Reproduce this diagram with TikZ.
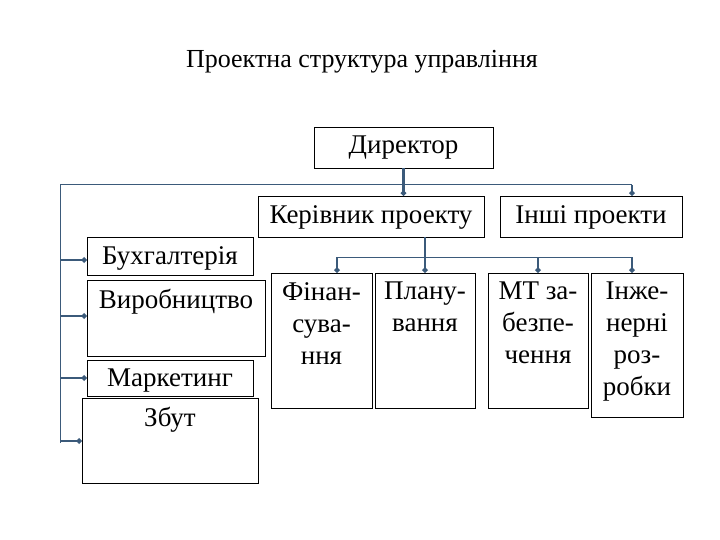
\documentclass[tikz,border=0pt]{standalone}
\usepackage{fontspec}
\setmainfont{Liberation Serif}
\usetikzlibrary{arrows.meta}
\begin{document}
\begin{tikzpicture}[x=1pt,y=-1pt,
  box/.style={draw=black,line width=0.8pt,inner sep=0pt},
  txt/.style={anchor=north,inner sep=0pt,font=\fontsize{27}{32}\selectfont,align=center},
  thin/.style={color={rgb,255:red,59;green,90;blue,122},line width=1pt},
  stub/.style={color={rgb,255:red,59;green,90;blue,122},line width=2.8pt,-{Circle[length=5pt]}}]
\useasboundingbox (0,0) rectangle (720,540);
\node[font=\fontsize{26}{28}\selectfont] (title) at (362,62) {Проектна структура управління};
\newcommand{\bx}[6]{\node[box,minimum width=#4-#2,minimum height=#5-#3] (#1) at ({(#2+#4)/2},{(#3+#5)/2}) {};
  \node[txt] (#1t) at ({(#2+#4)/2},#3+9) {#6};}
\bx{dir}{314}{127}{493}{168}{Директор}
\bx{ker}{258}{196}{484}{237}{Керівник проекту}
\bx{inshi}{500}{196}{682}{237}{Інші проекти}
\bx{fin}{271}{273}{372}{408}{Фінан-\\сува-\\ння}
\bx{plan}{375}{273}{475}{408}{Плану-\\вання}
\bx{mt}{488}{273}{588}{408}{МТ за-\\безпе-\\чення}
\bx{inzh}{591}{273}{683}{417}{Інже-\\нерні\\роз-\\робки}
\bx{buh}{87}{237}{253}{275}{Бухгалтерія}
\bx{vyr}{87}{280}{265}{356}{Виробництво}
\bx{mark}{87}{360}{253}{396}{Маркетинг}
\bx{zbut}{82}{398}{258}{483}{Збут}
\coordinate (l1a) at (60,185); \coordinate (l1b) at (632,185);
\coordinate (l1c) at (60,443);
\draw[thin] (l1c) -- (l1a) -- (l1b);
\coordinate (l2a) at (337,257); \coordinate (l2b) at (632,257);
\draw[thin] (l2a) -- (l2b);
\draw[stub] (dir.south) -- (ker.north-|dir.south);
\draw[stub] (l1b) -- (inshi.north-|l1b);
\draw[stub] (ker.south-|plan.north) -- (plan.north);
\draw[stub] (l2a) -- (fin.north-|l2a);
\draw[stub] (mt.north|-l2a) -- (mt.north);
\draw[stub] (l2b) -- (inzh.north-|l2b);
\draw[stub] (60,260) -- (buh.west|-0,260);
\draw[stub] (60,316) -- (vyr.west|-0,316);
\draw[stub] (60,378) -- (mark.west|-0,378);
\draw[stub] (60,441) -- (zbut.west|-0,441);
\end{tikzpicture}
\end{document}
